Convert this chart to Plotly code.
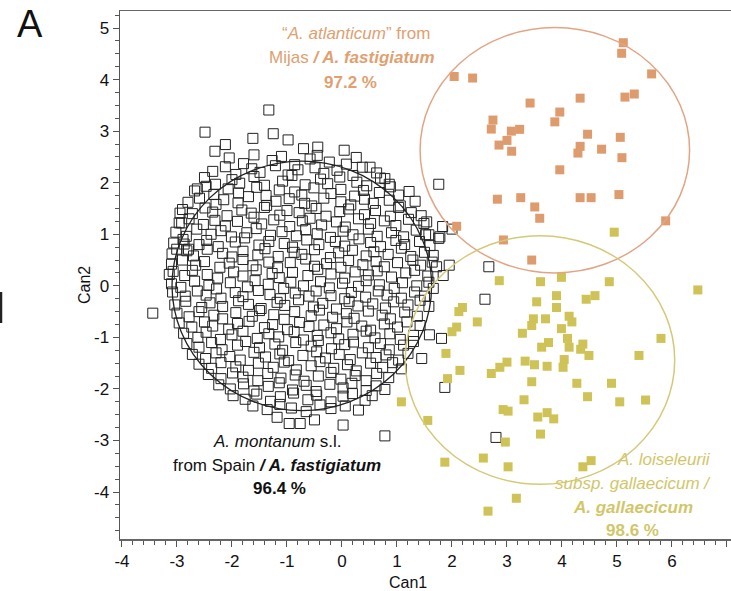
import plotly.graph_objects as go

# ---------------- data ----------------
orange_x = [5.115, 5.085, 5.63, 2.04, 2.375, 4.33, 5.145, 5.315, 3.42, 3.96, 3.87, 2.745,
            2.715, 3.08, 3.23, 3.0, 2.855, 3.085, 4.465, 5.06, 4.33, 4.29, 4.72, 5.09,
            3.96, 2.825, 3.25, 3.505, 3.595, 4.33, 4.53, 5.035, 5.885, 2.085, 2.935, 3.45]
orange_y = [4.715, 4.51, 4.11, 4.06, 4.03, 3.64, 3.66, 3.72, 3.545, 3.37, 3.18, 3.215,
            3.04, 3.0, 3.035, 2.82, 2.73, 2.61, 2.94, 2.88, 2.705, 2.575, 2.65, 2.485,
            2.25, 1.68, 1.71, 1.53, 1.31, 1.71, 1.71, 1.77, 1.26, 1.155, 0.89, 0.5]

yellow_x = [4.95, 6.47, 2.86, 3.61, 3.99, 4.86, 3.90, 3.54, 3.90, 4.44, 4.60, 2.19,
            2.125, 2.46, 3.48, 3.70, 3.45, 4.13, 4.18, 3.99, 3.28, 2.085, 2.0, 4.10,
            3.755, 3.63, 4.13, 4.38, 4.34, 4.49, 5.80, 5.40, 1.89, 3.0, 2.87, 2.715,
            3.33, 3.50, 3.73, 4.04, 4.02, 2.145, 1.92, 3.45, 4.27, 4.90, 4.465, 5.05,
            5.52, 3.31, 1.08, 2.93, 3.02, 3.56, 3.73, 3.85, 1.56, 3.61, 2.97, 1.87,
            2.57, 3.02, 4.53, 4.38, 3.17, 2.655]
yellow_y = [1.04, -0.08, 0.10, 0.08, 0.165, 0.08, -0.19, -0.31, -0.42, -0.26, -0.19, -0.42,
            -0.50, -0.70, -0.64, -0.64, -0.77, -0.59, -0.70, -0.83, -0.92, -0.80, -0.89, -1.02,
            -1.10, -1.19, -1.19, -1.13, -1.23, -1.35, -1.02, -1.35, -1.31, -1.48, -1.58, -1.70,
            -1.46, -1.53, -1.56, -1.43, -1.58, -1.64, -1.80, -1.86, -1.89, -1.89, -2.15, -2.25,
            -2.215, -2.21, -2.25, -2.40, -2.43, -2.545, -2.46, -2.58, -2.61, -2.875, -3.03, -3.42,
            -3.34, -3.51, -3.39, -3.51, -4.12, -4.37]

# black group (A. montanum s.l.), estimated band by band, top to bottom
black_pts = [
    (-2.49, 2.98), (-1.33, 3.41), (-2.12, 2.74), (-1.62, 2.86), (-0.98, 2.83), (-0.44, 2.69),
    (0.04, 2.63), (-2.31, 2.61), (-1.25, 2.95), (-0.7, 2.66),
    (-2.05, 2.48), (-1.79, 2.37), (-1.6, 2.54), (-1.27, 2.43), (-1.1, 2.51), (-0.86, 2.35),
    (-0.58, 2.46), (-0.45, 2.53), (-0.23, 2.4), (0.08, 2.36), (0.26, 2.49), (0.51, 2.3),
    (-2.35, 2.22), (-2.12, 2.31), (-1.93, 2.16), (-1.64, 2.27), (-1.49, 2.2), (-1.21, 2.33),
    (-0.98, 2.15), (-0.8, 2.25), (-0.49, 2.29), (-0.33, 2.18), (-0.09, 2.24), (0.2, 2.14),
    (0.37, 2.3), (0.63, 2.19), (0.78, 2.08),
    (-2.5, 2.1), (-2.3, 1.97), (-2.0, 2.06), (-1.86, 1.99), (-1.6, 2.12), (-1.41, 1.95),
    (-1.08, 2.03), (-0.91, 2.14), (-0.67, 1.96), (-0.39, 2.07), (-0.26, 1.98), (-0.04, 2.11),
    (0.27, 2.01), (0.45, 1.94), (0.7, 2.09), (0.86, 1.97),
    (-2.68, 1.84), (-2.47, 1.93), (-2.33, 1.77), (-2.07, 1.88), (-1.88, 1.8), (-1.55, 1.91),
    (-1.38, 1.75), (-1.14, 1.86), (-0.86, 1.82), (-0.73, 1.76), (-0.51, 1.9), (-0.2, 1.79),
    (-0.02, 1.87), (0.23, 1.74), (0.39, 1.85), (0.68, 1.81), (0.88, 1.92), (1.03, 1.76), (1.22, 1.83),
    (-2.8, 1.62), (-2.59, 1.7), (-2.29, 1.58), (-2.15, 1.67), (-1.89, 1.61), (-1.7, 1.73),
    (-1.37, 1.56), (-1.2, 1.64), (-0.96, 1.69), (-0.68, 1.6), (-0.55, 1.55), (-0.33, 1.7),
    (-0.02, 1.63), (0.16, 1.57), (0.41, 1.68), (0.57, 1.6), (0.86, 1.66), (1.06, 1.55), (1.33, 1.64),
    (-2.9, 1.48), (-2.72, 1.4), (-2.49, 1.51), (-2.35, 1.43), (-2.09, 1.36), (-1.82, 1.47),
    (-1.65, 1.41), (-1.41, 1.52), (-1.13, 1.37), (-1.0, 1.46), (-0.78, 1.42), (-0.47, 1.5),
    (-0.29, 1.35), (-0.04, 1.44), (0.12, 1.49), (0.41, 1.38), (0.61, 1.46), (0.88, 1.35),
    (1.03, 1.52), (1.26, 1.42), (1.44, 1.36),
    (-2.96, 1.22), (-2.78, 1.3), (-2.52, 1.19), (-2.31, 1.27), (-2.12, 1.16), (-1.9, 1.25),
    (-1.6, 1.33), (-1.46, 1.2), (-1.24, 1.28), (-0.95, 1.15), (-0.72, 1.26), (-0.58, 1.31),
    (-0.37, 1.18), (-0.1, 1.24), (0.06, 1.14), (0.3, 1.3), (0.52, 1.21), (0.77, 1.26),
    (0.98, 1.17), (1.21, 1.29), (1.49, 1.21),
    (-3.02, 1.04), (-2.83, 0.96), (-2.64, 1.1), (-2.38, 1.0), (-2.2, 1.07), (-2.01, 0.95),
    (-1.73, 1.03), (-1.56, 1.11), (-1.3, 0.98), (-1.09, 1.05), (-0.83, 0.97), (-0.66, 1.09),
    (-0.45, 1.01), (-0.21, 0.94), (0.02, 1.06), (0.2, 0.99), (0.48, 1.1), (0.64, 0.96),
    (0.9, 1.03), (1.12, 0.95), (1.35, 1.08), (1.52, 0.99),
    (-3.06, 0.83), (-2.89, 0.9), (-2.6, 0.8), (-2.46, 0.88), (-2.25, 0.76), (-1.94, 0.85),
    (-1.77, 0.93), (-1.51, 0.79), (-1.33, 0.86), (-1.05, 0.82), (-0.9, 0.75), (-0.64, 0.89),
    (-0.42, 0.8), (-0.12, 0.86), (0.05, 0.77), (0.31, 0.91), (0.52, 0.84), (0.7, 0.76),
    (0.98, 0.88), (1.14, 0.8), (1.41, 0.86), (1.6, 0.78),
    (-3.09, 0.62), (-2.82, 0.68), (-2.7, 0.58), (-2.45, 0.71), (-2.17, 0.63), (-2.0, 0.56),
    (-1.8, 0.67), (-1.53, 0.6), (-1.4, 0.72), (-1.16, 0.57), (-0.87, 0.65), (-0.73, 0.61),
    (-0.5, 0.7), (-0.21, 0.55), (-0.06, 0.64), (0.19, 0.69), (0.44, 0.58), (0.58, 0.66),
    (0.84, 0.61), (1.08, 0.73), (1.25, 0.57), (1.5, 0.65), (1.66, 0.59),
    (-3.1, 0.42), (-2.9, 0.5), (-2.66, 0.4), (-2.5, 0.47), (-2.22, 0.36), (-2.05, 0.44),
    (-1.8, 0.51), (-1.62, 0.39), (-1.33, 0.46), (-1.17, 0.35), (-0.94, 0.45), (-0.66, 0.52),
    (-0.5, 0.38), (-0.28, 0.43), (-0.02, 0.36), (0.12, 0.49), (0.38, 0.41), (0.62, 0.47),
    (0.77, 0.37), (1.01, 0.45), (1.29, 0.5), (1.43, 0.4), (1.64, 0.46),
    (-3.07, 0.28), (-2.86, 0.2), (-2.72, 0.3), (-2.45, 0.22), (-2.26, 0.15), (-1.97, 0.27),
    (-1.8, 0.19), (-1.56, 0.31), (-1.27, 0.24), (-1.14, 0.16), (-0.9, 0.26), (-0.62, 0.2),
    (-0.44, 0.32), (-0.2, 0.23), (0.05, 0.15), (0.24, 0.27), (0.48, 0.21), (0.64, 0.29),
    (0.9, 0.17), (1.16, 0.25), (1.32, 0.3), (1.56, 0.19),
    (-3.1, 0.04), (-2.93, -0.03), (-2.68, 0.09), (-2.42, 0.01), (-2.28, -0.06), (-2.03, 0.06),
    (-1.72, -0.02), (-1.58, 0.1), (-1.34, 0.03), (-1.06, -0.05), (-0.93, 0.07), (-0.7, 0.0),
    (-0.39, 0.08), (-0.23, -0.04), (0.01, 0.05), (0.3, -0.01), (0.44, 0.1), (0.68, 0.02),
    (0.95, -0.05), (1.1, 0.06), (1.36, 0.0), (1.58, 0.07), (1.66, -0.05),
    (-3.08, -0.12), (-2.85, -0.2), (-2.63, -0.1), (-2.47, -0.18), (-2.2, -0.24), (-1.94, -0.13),
    (-1.8, -0.21), (-1.52, -0.09), (-1.31, -0.17), (-1.12, -0.25), (-0.85, -0.14), (-0.6, -0.2),
    (-0.47, -0.1), (-0.2, -0.19), (0.05, -0.25), (0.17, -0.13), (0.43, -0.22), (0.66, -0.1),
    (0.82, -0.18), (1.08, -0.24), (1.32, -0.12), (1.5, -0.2),
    (-3.04, -0.37), (-2.84, -0.3), (-2.55, -0.42), (-2.4, -0.33), (-2.17, -0.4), (-1.88, -0.29),
    (-1.7, -0.36), (-1.47, -0.44), (-1.18, -0.32), (-1.04, -0.38), (-0.79, -0.27), (-0.52, -0.41),
    (-0.35, -0.34), (-0.1, -0.45), (0.13, -0.3), (0.29, -0.39), (0.56, -0.35), (0.79, -0.43),
    (0.94, -0.31), (1.2, -0.37), (1.42, -0.28), (1.58, -0.4),
    (-3.0, -0.53), (-2.78, -0.6), (-2.6, -0.5), (-2.33, -0.57), (-2.17, -0.64), (-1.93, -0.52),
    (-1.63, -0.59), (-1.5, -0.48), (-1.24, -0.56), (-1.05, -0.65), (-0.86, -0.5), (-0.56, -0.58),
    (-0.41, -0.47), (-0.17, -0.61), (0.08, -0.54), (0.22, -0.63), (0.48, -0.49), (0.73, -0.57),
    (0.88, -0.64), (1.14, -0.51), (1.37, -0.59),
    (-2.96, -0.72), (-2.73, -0.8), (-2.5, -0.7), (-2.35, -0.78), (-2.06, -0.84), (-1.9, -0.73),
    (-1.69, -0.69), (-1.41, -0.81), (-1.26, -0.75), (-0.99, -0.85), (-0.77, -0.71), (-0.6, -0.79),
    (-0.33, -0.76), (-0.1, -0.83), (0.09, -0.7), (0.36, -0.78), (0.52, -0.86), (0.77, -0.74),
    (1.01, -0.8), (1.18, -0.7), (1.42, -0.77),
    (-2.88, -0.92), (-2.62, -1.0), (-2.47, -0.9), (-2.21, -1.04), (-2.0, -0.95), (-1.8, -0.88),
    (-1.54, -1.02), (-1.33, -0.93), (-1.15, -0.99), (-0.87, -0.89), (-0.7, -1.05), (-0.45, -0.96),
    (-0.2, -0.91), (-0.06, -1.03), (0.2, -0.94), (0.44, -0.88), (0.6, -1.01), (0.87, -0.93),
    (1.06, -1.04), (1.3, -0.96),
    (-2.82, -1.12), (-2.6, -1.19), (-2.37, -1.1), (-2.18, -1.24), (-1.9, -1.15), (-1.75, -1.08),
    (-1.5, -1.2), (-1.22, -1.13), (-1.08, -1.25), (-0.84, -1.1), (-0.56, -1.17), (-0.43, -1.06),
    (-0.19, -1.22), (0.05, -1.14), (0.21, -1.09), (0.48, -1.2), (0.7, -1.12), (0.86, -1.24),
    (1.12, -1.15), (1.3, -1.08),
    (-2.72, -1.33), (-2.48, -1.41), (-2.29, -1.3), (-2.04, -1.37), (-1.85, -1.44), (-1.6, -1.29),
    (-1.39, -1.38), (-1.13, -1.32), (-0.97, -1.45), (-0.71, -1.35), (-0.46, -1.28), (-0.3, -1.4),
    (-0.05, -1.33), (0.15, -1.43), (0.37, -1.3), (0.62, -1.39), (0.8, -1.34), (1.03, -1.44),
    (1.2, -1.31),
    (-2.6, -1.52), (-2.37, -1.6), (-2.2, -1.49), (-1.93, -1.57), (-1.7, -1.64), (-1.52, -1.5),
    (-1.25, -1.58), (-1.05, -1.48), (-0.83, -1.63), (-0.56, -1.55), (-0.4, -1.47), (-0.15, -1.6),
    (0.1, -1.53), (0.26, -1.65), (0.52, -1.5), (0.74, -1.58), (0.92, -1.49), (1.08, -1.61),
    (-2.43, -1.72), (-2.2, -1.8), (-1.99, -1.69), (-1.8, -1.77), (-1.53, -1.84), (-1.35, -1.7),
    (-1.11, -1.79), (-0.85, -1.73), (-0.69, -1.85), (-0.43, -1.75), (-0.2, -1.68), (-0.02, -1.81),
    (0.24, -1.74), (0.44, -1.84), (0.63, -1.7), (0.85, -1.78),
    (-2.24, -1.92), (-2.03, -2.0), (-1.79, -1.9), (-1.6, -2.04), (-1.34, -1.95), (-1.14, -1.88),
    (-0.9, -2.02), (-0.65, -1.93), (-0.47, -2.05), (-0.22, -1.91), (0.02, -1.98), (0.18, -1.89),
    (0.44, -2.03), (0.62, -1.94), (0.78, -2.01),
    (-1.98, -2.13), (-1.76, -2.2), (-1.55, -2.1), (-1.3, -2.24), (-1.12, -2.15), (-0.88, -2.08),
    (-0.62, -2.21), (-0.46, -2.12), (-0.2, -2.25), (0.02, -2.14), (0.19, -2.09), (0.42, -2.22),
    (0.55, -2.13),
    (-1.62, -2.33), (-1.36, -2.4), (-1.13, -2.3), (-0.92, -2.37), (-0.65, -2.44), (-0.4, -2.31),
    (-0.2, -2.38), (0.06, -2.33), (0.3, -2.41),
    (-0.96, -2.67), (-0.76, -2.67), (0.02, -2.70), (0.78, -2.91), (-1.18, -2.55), (-0.5, -2.6),
    # outliers around the cloud
    (-3.44, -0.53), (-3.005, 0.71), (-2.79, 0.71), (-2.87, 0.81), (-2.945, 1.41), (-2.915, 1.22),
    (-3.14, 0.22), (-2.63, 1.88), (1.76, 1.97), (1.54, 1.24), (1.83, 1.15), (2.0, 1.10),
    (1.58, 0.99), (1.76, 0.92), (1.95, 0.40), (2.67, 0.37), (1.72, 0.37), (2.60, -0.26),
    (1.84, 0.20), (1.81, -1.02), (1.59, -0.95), (1.45, -1.41), (1.87, -1.97), (2.80, -2.94),
    (1.78, 0.95),
]
black_x = [p[0] for p in black_pts]
black_y = [p[1] for p in black_pts]

# ellipses (centre x, centre y, radius x, radius y)
ell_black = (-0.73, 0.0, 2.36, 2.42)
ell_orange = (3.87, 2.63, 2.45, 2.38)
ell_yellow = (3.6, -1.44, 2.45, 2.41)

x_ticks = [-4, -3, -2, -1, 0, 1, 2, 3, 4, 5, 6, 7]
y_ticks = [-4, -3, -2, -1, 0, 1, 2, 3, 4, 5]

# ---------------- colours ----------------
ORANGE = "#DE9C6E"
ORANGE_LINE = "#E2A584"
ORANGE_TXT = "#E0A070"
YELLOW = "#CFC256"
YELLOW_LINE = "#D4C978"
YELLOW_TXT = "#D2C66A"
FONT = "Liberation Sans, Arial, sans-serif"

fig = go.Figure()

fig.add_trace(go.Scatter(
    x=black_x, y=black_y, mode="markers",
    marker=dict(symbol="square-open", size=10, color="#222222", line=dict(width=1)),
    hoverinfo="skip", showlegend=False))
fig.add_trace(go.Scatter(
    x=orange_x, y=orange_y, mode="markers",
    marker=dict(symbol="square", size=9, color=ORANGE, line=dict(width=0)),
    hoverinfo="skip", showlegend=False))
fig.add_trace(go.Scatter(
    x=yellow_x, y=yellow_y, mode="markers",
    marker=dict(symbol="square", size=9, color=YELLOW, line=dict(width=0)),
    hoverinfo="skip", showlegend=False))

for (cx, cy, rx, ry), col, w in [(ell_black, "#222222", 1.3),
                                 (ell_orange, ORANGE_LINE, 1.5),
                                 (ell_yellow, YELLOW_LINE, 1.5)]:
    fig.add_shape(type="circle", xref="x", yref="y",
                  x0=cx - rx, x1=cx + rx, y0=cy - ry, y1=cy + ry,
                  line=dict(color=col, width=w), layer="above")


def label(x, y, text, color, size=17):
    fig.add_annotation(x=x, y=y, xref="x", yref="y", text=text, showarrow=False,
                       font=dict(family=FONT, size=size, color=color),
                       xanchor="center", yanchor="middle")


# orange group
label(0.255, 4.90, "\u201c<i>A. atlanticum</i>\u201d from", ORANGE_TXT)
label(0.18, 4.42, "Mijas <b><i>/ A. fastigiatum</i></b>", ORANGE_TXT)
label(0.16, 3.95, "<b>97.2 %</b>", ORANGE_TXT)
# black group
label(-1.18, -3.02, "<i>A. montanum</i> s.l.", "#111111")
label(-1.18, -3.49, "from Spain <b><i>/ A. fastigiatum</i></b>", "#111111")
label(-1.13, -3.94, "<b>96.4 %</b>", "#111111")
# yellow group
label(5.855, -3.36, "<i>A. loiseleurii</i>", YELLOW_TXT)
label(5.29, -3.83, "<i>subsp. gallaecicum /</i>", YELLOW_TXT)
label(5.29, -4.29, "<b><i>A. gallaecicum</i></b>", YELLOW_TXT)
label(5.29, -4.74, "<b>98.6 %</b>", YELLOW_TXT)

PW, PH = 611.0, 528.0   # plot area size in px (l=120, t=11)

fig.update_layout(
    width=731, height=591,
    margin=dict(l=120, r=0, t=11, b=52, autoexpand=False),
    paper_bgcolor="white", plot_bgcolor="white",
    font=dict(family=FONT, size=17, color="#111111"),
    showlegend=False,
    xaxis=dict(range=[-4.036, 7.073], tickvals=x_ticks, ticktext=[str(v) for v in x_ticks],
               ticks="outside", ticklen=6, tickwidth=1, tickcolor="#555555",
               showline=True, linecolor="#666666", linewidth=1.5, mirror=True,
               showgrid=False, zeroline=False, automargin=False,
               minor=dict(dtick=0.2, ticks="outside", ticklen=4, tickcolor="#555555"),
               tickfont=dict(size=17)),
    yaxis=dict(range=[-4.91, 5.33], tickvals=y_ticks, ticktext=[str(v) for v in y_ticks],
               ticks="outside", ticklen=6, tickwidth=1, tickcolor="#555555",
               showline=True, linecolor="#555555", linewidth=1.5, mirror=False,
               showgrid=False, zeroline=False, automargin=False,
               minor=dict(dtick=0.25, ticks="outside", ticklen=4, tickcolor="#555555"),
               tickfont=dict(size=17)),
)

fig.add_annotation(x=(408 - 120) / PW, y=-(582 - 539) / PH, xref="paper", yref="paper",
                   text="Can1", showarrow=False, xanchor="center", yanchor="middle",
                   font=dict(family=FONT, size=16, color="#111111"))
fig.add_annotation(x=-(120 - 84) / PW, y=(539 - 285) / PH, xref="paper", yref="paper",
                   text="Can2", showarrow=False, textangle=-90, xanchor="center",
                   yanchor="middle", font=dict(family=FONT, size=16, color="#111111"))
fig.add_annotation(x=-(120 - 30) / PW, y=(539 - 24) / PH, xref="paper", yref="paper",
                   text="A", showarrow=False, xanchor="center", yanchor="middle",
                   font=dict(family=FONT, size=38, color="#111111"))
fig.add_shape(type="line", xref="paper", yref="paper",
              x0=-(120 - 1) / PW, x1=-(120 - 1) / PW,
              y0=(539 - 292) / PH, y1=(539 - 323) / PH,
              line=dict(color="#222222", width=2.5))

fig.write_html("out.html",
               config={"displayModeBar": False, "staticPlot": True},
               post_script="document.body.style.margin='0';"
                           "document.body.style.overflow='hidden';")
